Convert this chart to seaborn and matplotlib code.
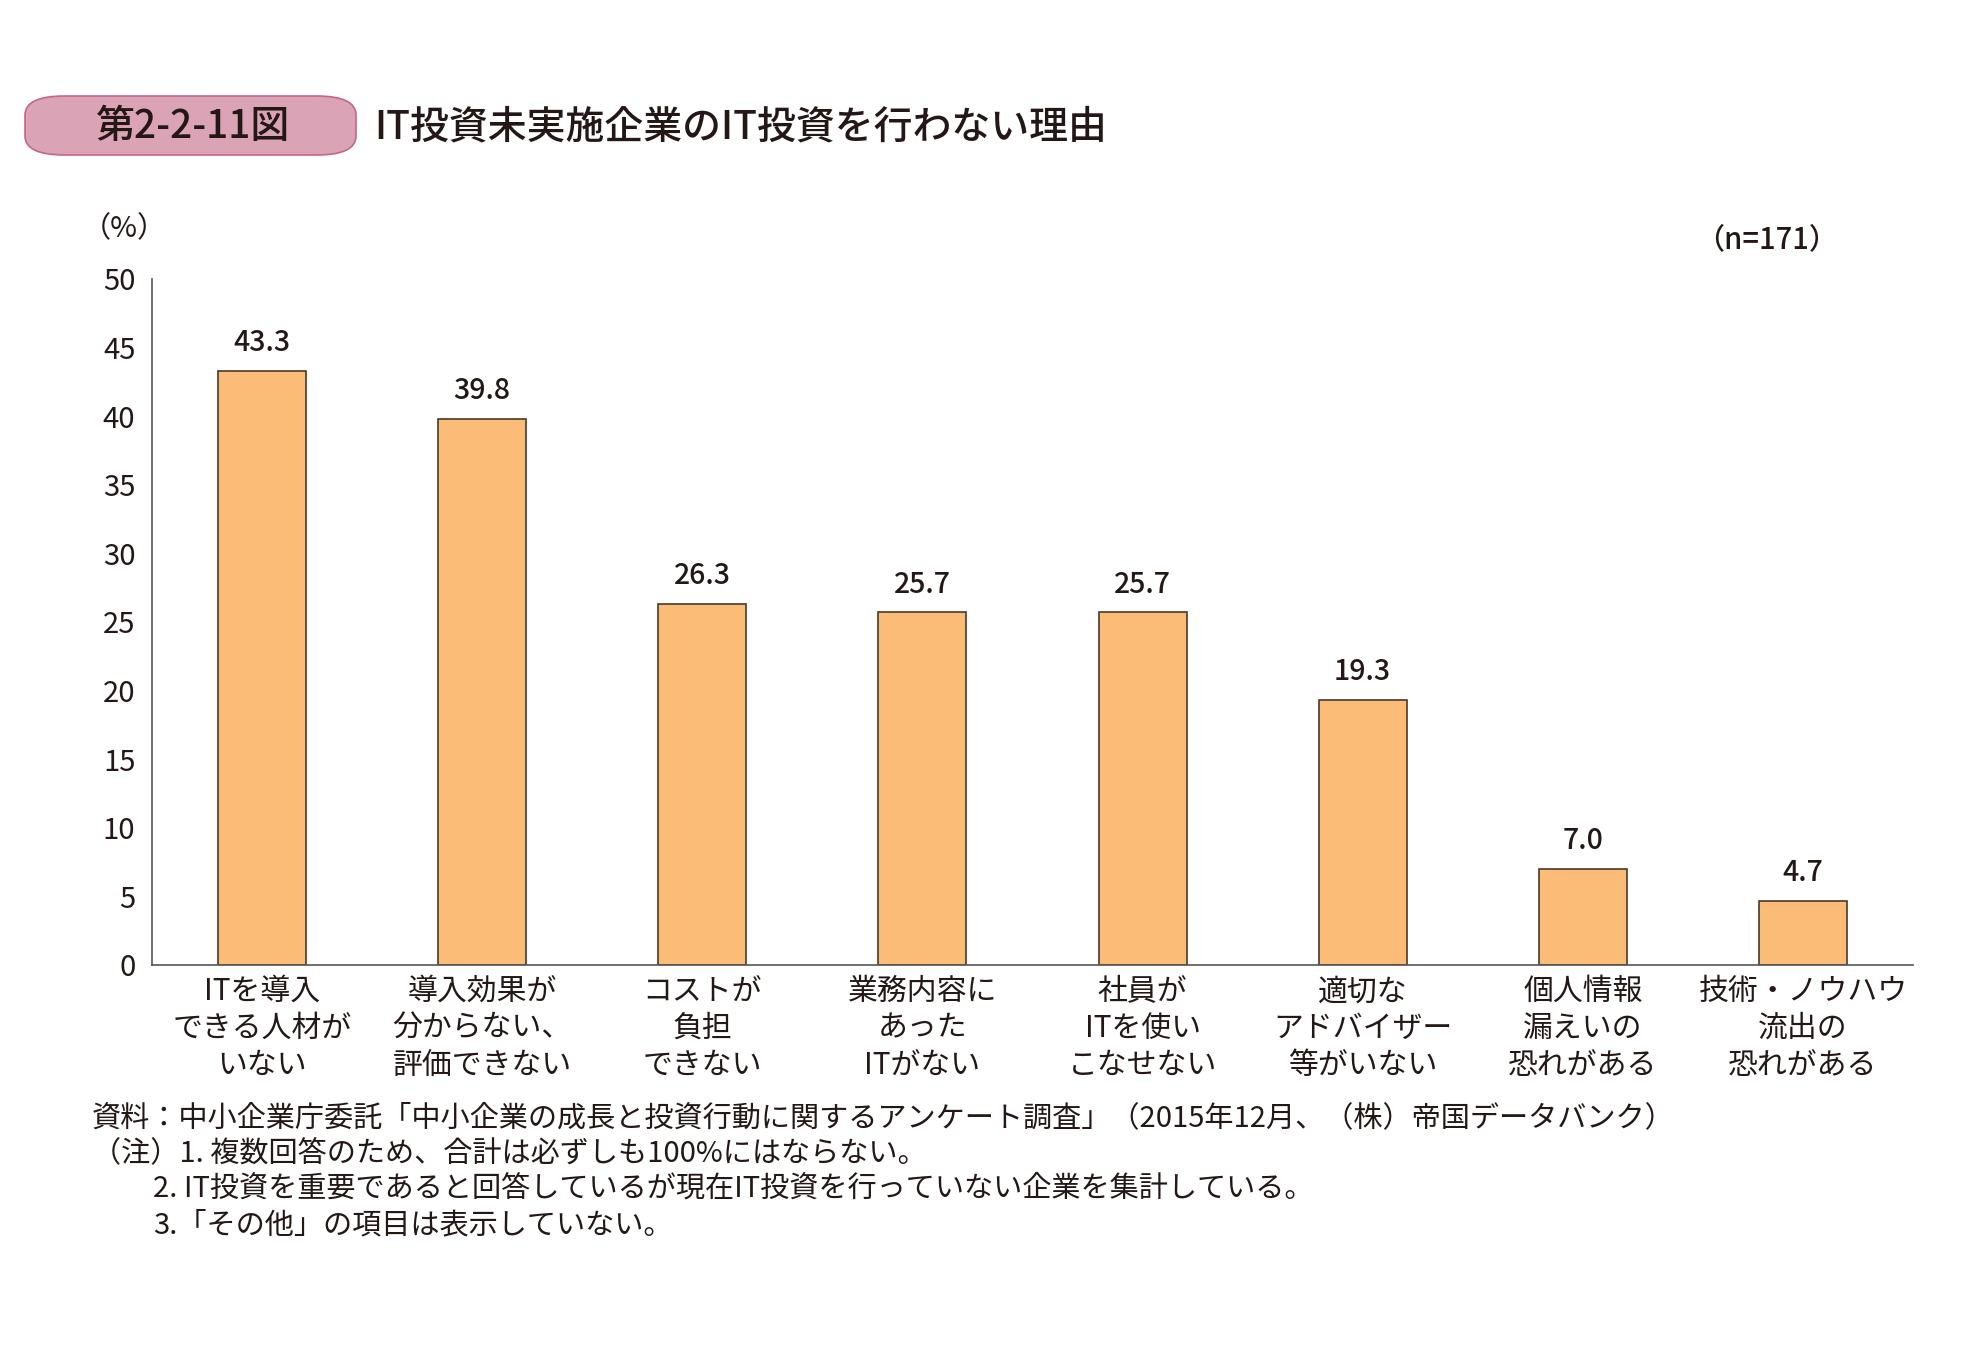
import matplotlib
matplotlib.use("Agg")
import matplotlib.pyplot as plt
import seaborn as sns
import pandas as pd
from matplotlib.patches import FancyBboxPatch

categories = [
    "ITを導入\nできる人材が\nいない",
    "導入効果が\n分からない、\n評価できない",
    "コストが\n負担\nできない",
    "業務内容に\nあった\nITがない",
    "社員が\nITを使い\nこなせない",
    "適切な\nアドバイザー\n等がいない",
    "個人情報\n漏えいの\n恐れがある",
    "技術・ノウハウ\n流出の\n恐れがある",
]
values = [43.3, 39.8, 26.3, 25.7, 25.7, 19.3, 7.0, 4.7]
yticks = [0, 5, 10, 15, 20, 25, 30, 35, 40, 45, 50]

sns.set_theme(style="white")
plt.rcParams['font.family'] = ['Noto Sans CJK JP', 'DejaVu Sans']

df = pd.DataFrame({"cat": categories, "val": values})

W, H = 1971, 1368
fig = plt.figure(figsize=(W / 100, H / 100), dpi=100)
ax = fig.add_axes([152 / W, 1 - 965 / H, (1913 - 152) / W, (965 - 279) / H])

sns.barplot(data=df, x="cat", y="val", ax=ax, color="#FBBC78", width=0.4,
            edgecolor="#4a3a2a", linewidth=1.2, saturation=1)

ax.set_ylim(0, 50)
ax.set_xlim(-0.5, len(categories) - 0.5)
ax.set_yticks(yticks)
ax.set_yticklabels([str(v) for v in yticks], fontsize=21, color="#231815")
ax.set_xlabel("")
ax.set_ylabel("")
ax.set_xticks(range(len(categories)))
ax.set_xticklabels(categories, fontsize=21.5, color="#231815", linespacing=1.24)
ax.tick_params(axis="x", which="major", length=0, pad=8)
ax.set_xticks([i + 0.5 for i in range(len(categories))], minor=True)
ax.tick_params(axis="x", which="minor", direction="in", length=12, width=1.2, color="#555555")
ax.tick_params(axis="y", direction="in", length=12, width=1.2, color="#555555", pad=12)

for s in ["top", "right"]:
    ax.spines[s].set_visible(False)
for s in ["left", "bottom"]:
    ax.spines[s].set_color("#555555")
    ax.spines[s].set_linewidth(1.2)

for i, v in enumerate(values):
    ax.annotate(f"{v:.1f}", (i, v), xytext=(0, 10), textcoords="offset points",
                ha="center", va="bottom", fontsize=20.5, fontweight="medium", color="#231815")

# Title box
box = FancyBboxPatch((25 / W, 1 - 155 / H), (356 - 25) / W, (155 - 96) / H,
                     boxstyle="round,pad=0,rounding_size=0.02", transform=fig.transFigure,
                     facecolor="#DBA3B6", edgecolor="#C3668A", linewidth=1.2, mutation_aspect=H / W * 1.0)
fig.patches.append(box)
fig.text(193 / W, 1 - 127 / H, "第2-2-11図", ha="center", va="center", fontsize=28,
         fontweight="medium", color="#231815")
fig.text(374 / W, 1 - 127 / H, "IT投資未実施企業のIT投資を行わない理由", ha="left", va="center",
         fontsize=28, fontweight="medium", color="#231815")

fig.text(82 / W, 1 - 229 / H, "（%）", ha="left", va="center", fontsize=21, color="#231815")
fig.text(1838 / W, 1 - 240 / H, "（n=171）", ha="right", va="center", fontsize=21,
         fontweight="medium", color="#231815")

notes = [
    (92, 1118, "資料：中小企業庁委託「中小企業の成長と投資行動に関するアンケート調査」（2015年12月、（株）帝国データバンク）"),
    (92, 1154, "（注）1. 複数回答のため、合計は必ずしも100%にはならない。"),
    (153, 1189, "2. IT投資を重要であると回答しているが現在IT投資を行っていない企業を集計している。"),
    (153, 1225, "3.「その他」の項目は表示していない。"),
]
for x, y, t in notes:
    fig.text(x / W, 1 - y / H, t, ha="left", va="center", fontsize=21, color="#231815")

fig.savefig("out.png", dpi=100, facecolor="white")
